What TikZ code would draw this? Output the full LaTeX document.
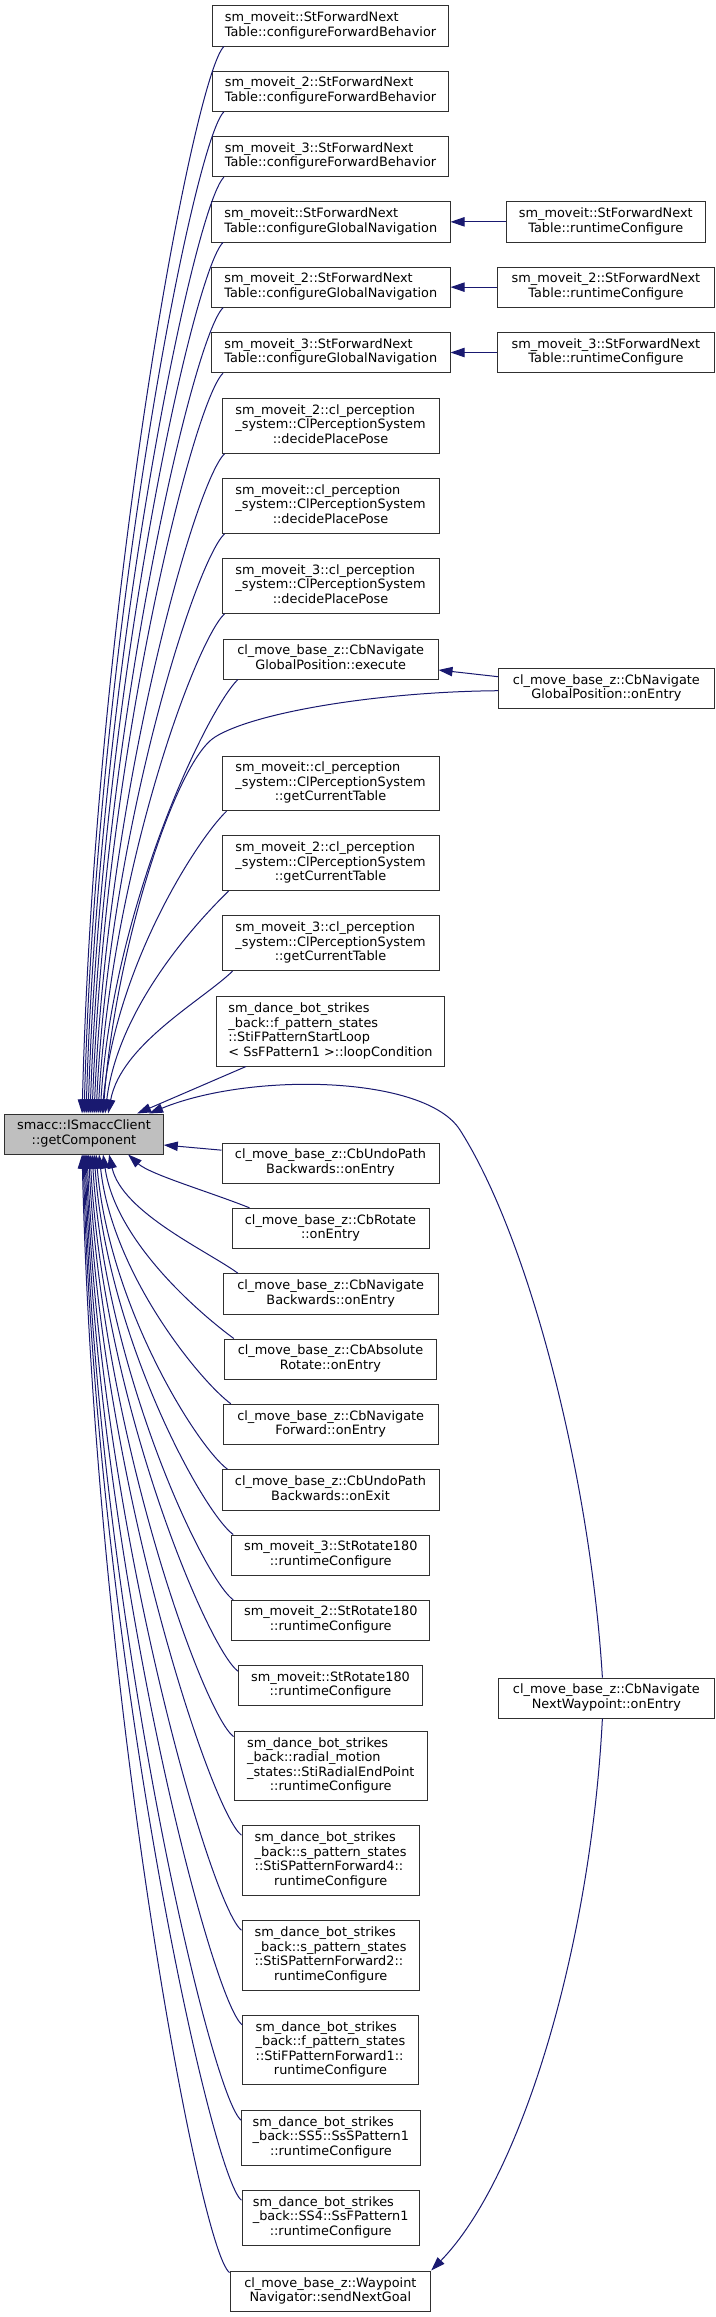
\documentclass[tikz,border=0pt]{standalone}
\usepackage{fontspec}
\setmainfont{DejaVu Sans}
\usetikzlibrary{arrows.meta,calc}
\definecolor{edgecol}{HTML}{191970}
\definecolor{smfill}{HTML}{BFBFBF}
\definecolor{bordercol}{HTML}{303030}
\renewcommand{\arraystretch}{1}
\newcommand{\Lines}[1]{\begin{tabular}{@{}l@{}}#1\end{tabular}}
\newcommand{\Last}[1]{\multicolumn{1}{@{}c@{}}{#1}}
\newcommand{\mknode}[7][]{%
  \node[fnbox,#1,minimum width={(#5-#3)*0.75pt},minimum height={(#6-#4)*0.75pt}] (#2) at ({(#3+#5)/2},{(#4+#6)/2}) {#7};}
\begin{document}
\begin{tikzpicture}[x=0.75pt,y=-0.75pt,
  fnbox/.style={draw=bordercol,fill=white,line width=0.75pt,inner sep=0pt,
    font=\fontsize{9.65}{10.875}\selectfont},
  focus/.style={fill=smfill,draw=bordercol},
  cedge/.style={draw=edgecol,line width=0.75pt,
    -{Triangle[length=10.5pt,width=7pt,fill=edgecol]}}]
\useasboundingbox (0,0) rectangle (716,2317);
\fill[white] (0,0) rectangle (716,2317);

% focus node
\mknode[focus]{sm}{4.6}{1114}{163.3}{1154}{\Lines{smacc::ISmaccClient\\\Last{::getComponent}}}

% left column (callers above)
\mknode{b1}{212.4}{5.7}{448.6}{46}{\Lines{sm\_moveit::StForwardNext\\\Last{Table::configureForwardBehavior}}}
\mknode{b2}{212.4}{71}{448.6}{111.3}{\Lines{sm\_moveit\_2::StForwardNext\\\Last{Table::configureForwardBehavior}}}
\mknode{b3}{212.4}{136.3}{448.6}{176.7}{\Lines{sm\_moveit\_3::StForwardNext\\\Last{Table::configureForwardBehavior}}}
\mknode{b4}{211.5}{201.7}{450}{242}{\Lines{sm\_moveit::StForwardNext\\\Last{Table::configureGlobalNavigation}}}
\mknode{b5}{211.5}{267}{450}{307.3}{\Lines{sm\_moveit\_2::StForwardNext\\\Last{Table::configureGlobalNavigation}}}
\mknode{b6}{211.5}{332.3}{450}{372.7}{\Lines{sm\_moveit\_3::StForwardNext\\\Last{Table::configureGlobalNavigation}}}
\mknode{b7}{222}{398.7}{439}{453.3}{\Lines{sm\_moveit\_2::cl\_perception\\\_system::ClPerceptionSystem\\\Last{::decidePlacePose}}}
\mknode{b8}{222}{478.7}{439}{533.3}{\Lines{sm\_moveit::cl\_perception\\\_system::ClPerceptionSystem\\\Last{::decidePlacePose}}}
\mknode{b9}{222}{558.7}{439}{613.3}{\Lines{sm\_moveit\_3::cl\_perception\\\_system::ClPerceptionSystem\\\Last{::decidePlacePose}}}
\mknode{b10}{223.4}{639}{438}{679}{\Lines{cl\_move\_base\_z::CbNavigate\\\Last{GlobalPosition::execute}}}
\mknode{b11}{222}{756}{439}{810.7}{\Lines{sm\_moveit::cl\_perception\\\_system::ClPerceptionSystem\\\Last{::getCurrentTable}}}
\mknode{b12}{222}{835.7}{439}{890.7}{\Lines{sm\_moveit\_2::cl\_perception\\\_system::ClPerceptionSystem\\\Last{::getCurrentTable}}}
\mknode{b13}{222}{915.7}{439}{970.7}{\Lines{sm\_moveit\_3::cl\_perception\\\_system::ClPerceptionSystem\\\Last{::getCurrentTable}}}
\mknode{b14}{216.5}{996.7}{444.5}{1066}{\Lines{sm\_dance\_bot\_strikes\\\_back::f\_pattern\_states\\::StiFPatternStartLoop\\\Last{< SsFPattern1 >::loopCondition}}}

% left column (callers below)
\mknode{b15}{222}{1143}{439}{1183.3}{\Lines{cl\_move\_base\_z::CbUndoPath\\\Last{Backwards::onEntry}}}
\mknode{b16}{232}{1208.3}{429}{1248.7}{\Lines{cl\_move\_base\_z::CbRotate\\\Last{::onEntry}}}
\mknode{b17}{223.4}{1273.7}{438}{1314}{\Lines{cl\_move\_base\_z::CbNavigate\\\Last{Backwards::onEntry}}}
\mknode{b18}{224.3}{1339}{436.7}{1379.3}{\Lines{cl\_move\_base\_z::CbAbsolute\\\Last{Rotate::onEntry}}}
\mknode{b19}{223.4}{1404.3}{438}{1444.7}{\Lines{cl\_move\_base\_z::CbNavigate\\\Last{Forward::onEntry}}}
\mknode{b20}{222}{1469.7}{439}{1510}{\Lines{cl\_move\_base\_z::CbUndoPath\\\Last{Backwards::onExit}}}
\mknode{b21}{231.7}{1535}{429.8}{1575}{\Lines{sm\_moveit\_3::StRotate180\\\Last{::runtimeConfigure}}}
\mknode{b22}{231.7}{1600.3}{429.8}{1640.3}{\Lines{sm\_moveit\_2::StRotate180\\\Last{::runtimeConfigure}}}
\mknode{b23}{238.5}{1665.7}{422.5}{1705.7}{\Lines{sm\_moveit::StRotate180\\\Last{::runtimeConfigure}}}
\mknode{b24}{234}{1731}{427.5}{1800.7}{\Lines{sm\_dance\_bot\_strikes\\\_back::radial\_motion\\\_states::StiRadialEndPoint\\\Last{::runtimeConfigure}}}
\mknode{b25}{242}{1825.7}{419.3}{1895.3}{\Lines{sm\_dance\_bot\_strikes\\\_back::s\_pattern\_states\\::StiSPatternForward4::\\\Last{runtimeConfigure}}}
\mknode{b26}{242}{1920.7}{419.3}{1990}{\Lines{sm\_dance\_bot\_strikes\\\_back::s\_pattern\_states\\::StiSPatternForward2::\\\Last{runtimeConfigure}}}
\mknode{b27}{242.7}{2015.3}{418.3}{2084.7}{\Lines{sm\_dance\_bot\_strikes\\\_back::f\_pattern\_states\\::StiFPatternForward1::\\\Last{runtimeConfigure}}}
\mknode{b28}{241.7}{2110.7}{420}{2165.3}{\Lines{sm\_dance\_bot\_strikes\\\_back::SS5::SsSPattern1\\\Last{::runtimeConfigure}}}
\mknode{b29}{242}{2190.7}{419.3}{2245.3}{\Lines{sm\_dance\_bot\_strikes\\\_back::SS4::SsFPattern1\\\Last{::runtimeConfigure}}}
\mknode{b30}{230}{2271}{430.7}{2311.7}{\Lines{cl\_move\_base\_z::Waypoint\\\Last{Navigator::sendNextGoal}}}

% right column
\mknode{r4}{506}{201.7}{705.5}{242}{\Lines{sm\_moveit::StForwardNext\\\Last{Table::runtimeConfigure}}}
\mknode{r5}{497.7}{267}{714.2}{307.3}{\Lines{sm\_moveit\_2::StForwardNext\\\Last{Table::runtimeConfigure}}}
\mknode{r6}{497.7}{332.3}{714.2}{372.7}{\Lines{sm\_moveit\_3::StForwardNext\\\Last{Table::runtimeConfigure}}}
\mknode{r10}{498.6}{668.7}{714.2}{708.7}{\Lines{cl\_move\_base\_z::CbNavigate\\\Last{GlobalPosition::onEntry}}}
\mknode{r24}{498.6}{1678}{714.2}{1718}{\Lines{cl\_move\_base\_z::CbNavigate\\\Last{NextWaypoint::onEntry}}}

% edges from callers above
\draw[cedge] ($(b1.south west)+(12,0)$) .. controls +(-30,29) and +(13,-513) .. ($(sm.north west)+(78,0)$);
\draw[cedge] ($(b2.south west)+(12,0)$) .. controls +(-30,29) and +(13,-481) .. ($(sm.north west)+(80,0)$);
\draw[cedge] ($(b3.south west)+(12,0)$) .. controls +(-30,29) and +(13,-450) .. ($(sm.north west)+(82,0)$);
\draw[cedge] ($(b4.south west)+(12,0)$) .. controls +(-30,29) and +(13,-419) .. ($(sm.north west)+(84,0)$);
\draw[cedge] ($(b5.south west)+(12,0)$) .. controls +(-30,29) and +(13,-387) .. ($(sm.north west)+(86,0)$);
\draw[cedge] ($(b6.south west)+(12,0)$) .. controls +(-30,29) and +(13,-356) .. ($(sm.north west)+(88,0)$);
\draw[cedge] ($(b7.south west)+(3,0)$) .. controls +(-30,29) and +(13,-317) .. ($(sm.north west)+(90,0)$);
\draw[cedge] ($(b8.south west)+(3,0)$) .. controls +(-30,29) and +(13,-279) .. ($(sm.north west)+(92,0)$);
\draw[cedge] ($(b9.south west)+(3,0)$) .. controls +(-30,29) and +(13,-240) .. ($(sm.north west)+(94,0)$);
\draw[cedge] ($(b10.south west)+(15,0)$) .. controls +(-30,29) and +(13,-209) .. ($(sm.north west)+(96,0)$);
\draw[cedge] ($(b11.south west)+(5,0)$) .. controls +(-30,29) and +(13,-146) .. ($(sm.north west)+(98,0)$);
\draw[cedge] ($(b12.south west)+(7,0)$) .. controls +(-30,29) and +(13,-107) .. ($(sm.north west)+(101,0)$);
\draw[cedge] ($(b13.south west)+(11,0)$) .. controls +(-30,29) and +(13,-69) .. ($(sm.north west)+(104,0)$);
\draw[cedge] ($(b14.south west)+(30,0)$) -- ($(sm.north west)+(133,0)$);

% edges from right column
\draw[cedge] (r4.west) -- (b4.east);
\draw[cedge] (r5.west) -- (b5.east);
\draw[cedge] (r6.west) -- (b6.east);
\draw[cedge] ($(r10.west)+(0,-12)$) -- ($(b10.east)+(0,11)$);
\draw[cedge] ($(r10.west)+(0,2)$) .. controls +(-118,1) and (255,712) .. (215,737)
   .. controls (175,762) and (115,950) .. ($(sm.north west)+(99,0)$);
\draw[cedge] ($(r24.north)+(-4,0)$) .. controls +(-12,-198) and (530,1240) .. (460,1130)
   .. controls (425,1075) and (250,1072) .. ($(sm.north west)+(145,0)$);
\draw[cedge] ($(r24.south)+(-4,0)$) .. controls +(-12,232) and +(89,-91) .. (b30.north east);

% edges from callers below
\draw[cedge] ($(b15.west)+(0,-13)$) -- ($(sm.east)+(0,11)$);
\draw[cedge] ($(b16.north west)+(18,0)$) .. controls +(-40,-16) and +(22,20) .. ($(sm.south west)+(124,0)$);
\draw[cedge] ($(b17.north west)+(15,0)$) .. controls +(-30,-22) and +(13,58) .. ($(sm.south west)+(105,0)$);
\draw[cedge] ($(b18.north west)+(10,0)$) .. controls +(-30,-22) and +(13,89) .. ($(sm.south west)+(99,0)$);
\draw[cedge] ($(b19.north west)+(8,0)$) .. controls +(-30,-22) and +(13,120) .. ($(sm.south west)+(95,0)$);
\draw[cedge] ($(b20.north west)+(6,0)$) .. controls +(-30,-22) and +(13,152) .. ($(sm.south west)+(92,0)$);
\draw[cedge] ($(b21.north west)+(2,0)$) .. controls +(-30,-22) and +(13,183) .. ($(sm.south west)+(90,0)$);
\draw[cedge] ($(b22.north west)+(2,0)$) .. controls +(-30,-22) and +(13,214) .. ($(sm.south west)+(88,0)$);
\draw[cedge] ($(b23.north west)+(0,6)$) .. controls +(-30,-22) and +(13,246) .. ($(sm.south west)+(86,0)$);
\draw[cedge] ($(b24.north west)+(0,6)$) .. controls +(-30,-22) and +(13,277) .. ($(sm.south west)+(84.5,0)$);
\draw[cedge] ($(b25.north west)+(0,10)$) .. controls +(-30,-22) and +(13,322) .. ($(sm.south west)+(83,0)$);
\draw[cedge] ($(b26.north west)+(0,10)$) .. controls +(-30,-22) and +(13,368) .. ($(sm.south west)+(82,0)$);
\draw[cedge] ($(b27.north west)+(0,10)$) .. controls +(-30,-22) and +(13,413) .. ($(sm.south west)+(81,0)$);
\draw[cedge] ($(b28.north west)+(0,10)$) .. controls +(-30,-22) and +(13,459) .. ($(sm.south west)+(80,0)$);
\draw[cedge] ($(b29.north west)+(0,10)$) .. controls +(-30,-22) and +(13,498) .. ($(sm.south west)+(79,0)$);
\draw[cedge] ($(b30.north west)+(0,2)$) .. controls +(-30,-22) and +(13,536) .. ($(sm.south west)+(78,0)$);
\end{tikzpicture}
\end{document}
